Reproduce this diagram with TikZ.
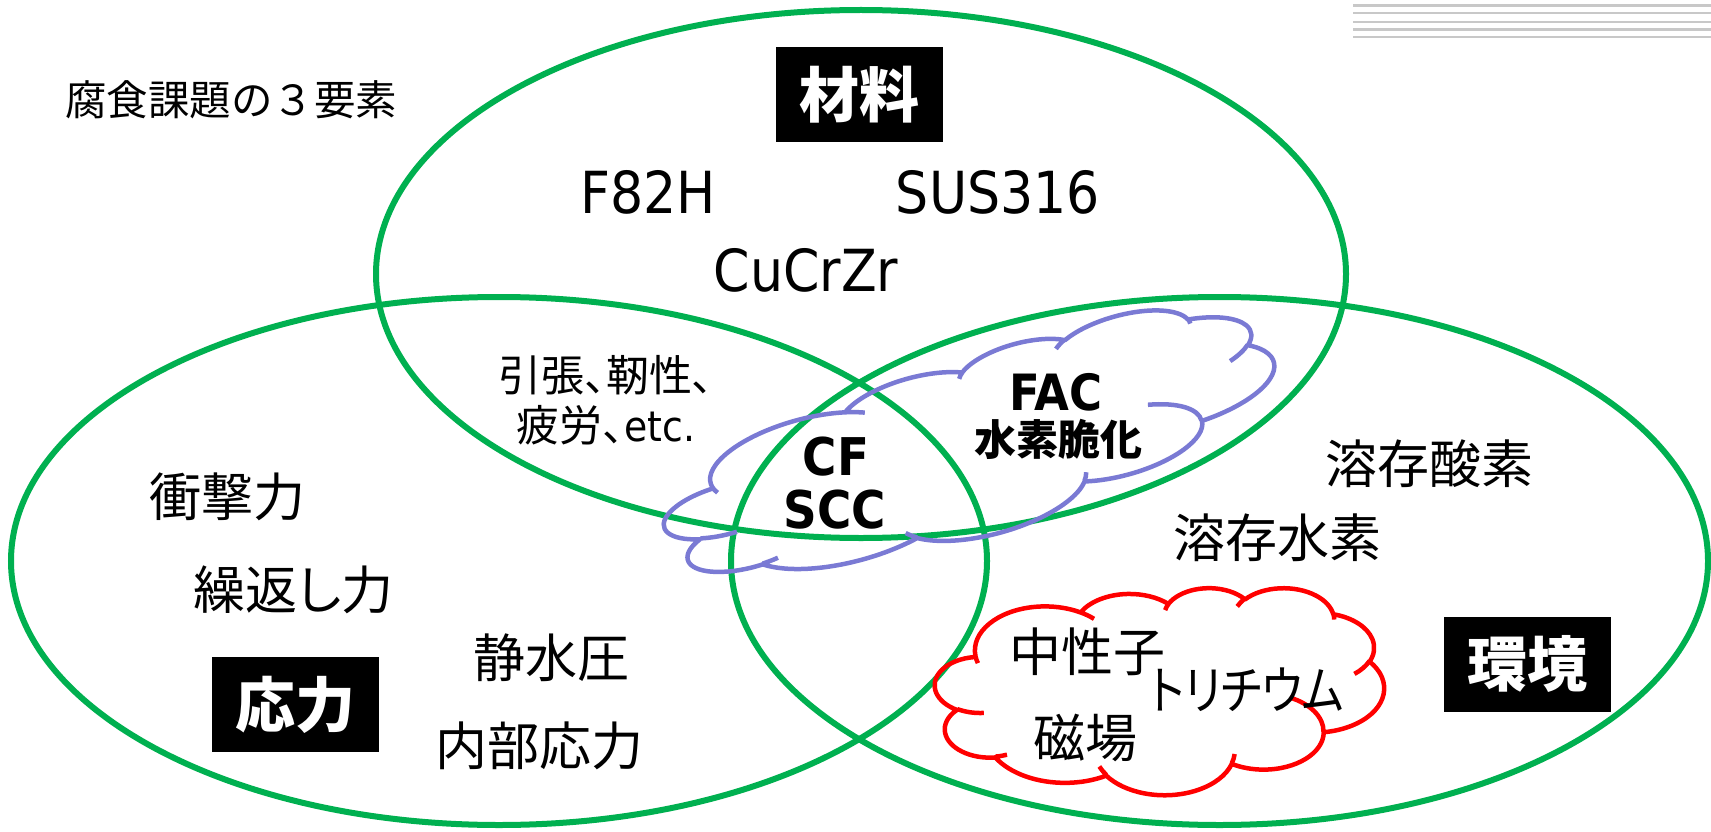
\documentclass[tikz,border=0pt]{standalone}
\usepackage{fontspec}
\setmainfont{DejaVu Sans}[FakeStretch=0.9]
\newfontfamily\cjk{Noto Sans CJK JP}
\newfontfamily\cjkp{Noto Sans CJK JP}[RawFeature=+palt]
\definecolor{vgreen}{HTML}{00B050}
\definecolor{cpurple}{HTML}{7A7AD4}
\definecolor{cred}{HTML}{FF0000}
\definecolor{stripegray}{HTML}{C8C8C8}
\newcommand\fs[1]{\fontsize{#1}{#1}\selectfont}
% arcTo of DrawingML (visual angles, y down) in a y-up frame
\newcommand\carc[4]{arc[start angle={(-atan2((#1)*sin(#3),(#2)*cos(#3)))}, delta angle={(-mod(atan2((#1)*sin((#3)+(#4)),(#2)*cos((#3)+(#4)))-atan2((#1)*sin(#3),(#2)*cos(#3))+720,360))}, x radius=#1, y radius=#2]}
\newcommand\cloudpath{(3.9,-14.37)
 \carc{6.753}{9.19}{-190.4875}{123.7805}
 \carc{5.333}{7.267}{-144.1024}{89.9452}
 \carc{4.365}{5.945}{-145.8079}{99.7230}
 \carc{4.857}{6.595}{-130.9861}{117.2417}
 \carc{5.333}{7.273}{-78.7089}{109.0269}
 \carc{6.775}{9.22}{-46.2673}{130.2690}
 \carc{5.785}{7.867}{0.6250}{114.0333}
 \carc{6.752}{9.215}{22.4516}{115.1726}
 \carc{7.72}{10.543}{66.2426}{75.7110}
 \carc{4.36}{5.918}{-274.9421}{146.7356}
 \carc{4.345}{5.945}{-246.8285}{152.5189}
 -- cycle
 (4.693,-26.177) \carc{4.345}{5.945}{86.742}{26.4295}
 (6.928,-34.899) \carc{4.36}{5.918}{73.6105}{11.4475}
 (16.478,-39.09) \carc{6.752}{9.215}{137.6242}{14.0811}
 (28.827,-34.751) \carc{6.752}{9.215}{6.4533}{15.9984}
 (34.129,-22.954) \carc{5.785}{7.867}{-70.2924}{70.9174}
 (41.798,-15.354) \carc{5.333}{7.273}{30.3180}{27.7515}
 (38.324,-5.426) \carc{4.857}{6.595}{-13.7443}{14.8589}
 (29.078,-3.952) \carc{4.857}{6.595}{-149.1815}{18.1954}
 (22.141,-4.72) \carc{4.365}{5.945}{-163.4943}{17.6864}
 (14.0,-5.192) \carc{6.753}{9.19}{-66.7070}{12.3194}
 (4.127,-15.789) \carc{6.753}{9.19}{157.6544}{11.8582}}
\tikzset{
 venn/.style={draw=vgreen, line width=6pt},
 cloudline/.style={line width=4.5pt, line join=round},
 stripeline/.style={draw=stripegray, line width=2.5pt},
 lbl/.style={inner sep=0pt, outer sep=0pt, font=\cjk\fs{52}},
 latin/.style={inner sep=0pt, outer sep=0pt, font=\fs{58}},
 boldlatin/.style={inner sep=0pt, outer sep=0pt, font=\bfseries\fs{52}},
 tagbox/.style={fill=black, text=white, minimum width=167pt, minimum height=95pt, inner sep=0pt, outer sep=0pt, font=\cjk\bfseries\fs{60}},
}
\begin{document}
\begin{tikzpicture}[x=1pt, y=1pt]
\useasboundingbox (0,0) rectangle (1711,-832);
\fill[white] (0,0) rectangle (1711,-832);
% stripes top right
\foreach \yy in {5.5,13,22,29.5,37} \draw[stripeline] (1353,-\yy) -- (1711,-\yy);
% Venn ellipses
\draw[venn] (861,-274) ellipse [x radius=485, y radius=264];
\draw[venn] (499,-561) ellipse [x radius=488, y radius=264];
\draw[venn] (1219.5,-561) ellipse [x radius=488.5, y radius=264];
% purple cloud
\begin{scope}[shift={(970,-448)}, rotate=15.4, xscale=631/43.2, yscale=178/43.2, shift={(-21.6,21.6)}]
\draw[cloudline, draw=cpurple] \cloudpath;
\end{scope}
% red cloud
\begin{scope}[shift={(935,-587.5)}, xscale=449/43.2, yscale=207/43.2]
\draw[cloudline, draw=cred] \cloudpath;
\end{scope}
% texts
\node[lbl, anchor=west, font=\cjk\fs{41.5}] (title) at (65,-100) {腐食課題の３要素};
\node[tagbox] (zairyo) at (859.5,-94.5) {材料};
\node[tagbox] (ouryoku) at (295,-704.5) {応力};
\node[tagbox] (kankyo) at (1527,-664) {環境};
\node[latin] (f82h) at (648,-192) {F82H};
\node[latin] (sus) at (998,-192) {SUS316};
\node[latin] (cucrzr) at (806,-270) {CuCrZr};
\node[lbl, align=center, font=\fontsize{43}{50}\selectfont] (props) at (606,-400)
  {{\cjkp 引張、靭性、}\\{\cjkp 疲労、}{\fontsize{42}{50}\selectfont etc.}};
\node[lbl] (shogeki) at (227,-497) {衝撃力};
\node[lbl, font=\cjkp\fs{52}] (kurikaeshi) at (293,-590) {繰返し力};
\node[lbl] (seisui) at (551,-658) {静水圧};
\node[lbl] (naibu) at (539,-746) {内部応力};
\node[lbl] (sanso) at (1429,-464) {溶存酸素};
\node[lbl] (suiso) at (1277,-538) {溶存水素};
\node[lbl] (chusei) at (1087,-652) {中性子};
\node[lbl, font=\cjkp\fs{52}] (tritium) at (1247,-690) {\scalebox{0.86}[1]{トリチウム}};
\node[lbl] (jiba) at (1085,-738) {磁場};
\node[boldlatin] (cf) at (836,-457) {CF};
\node[boldlatin] (scc) at (835,-510) {SCC};
\node[boldlatin, font=\bfseries\fs{50}] (fac) at (1056,-392) {FAC};
\node[lbl, font=\cjk\bfseries\fs{42}] (hydro) at (1058,-439) {水素脆化};
\end{tikzpicture}
\end{document}
